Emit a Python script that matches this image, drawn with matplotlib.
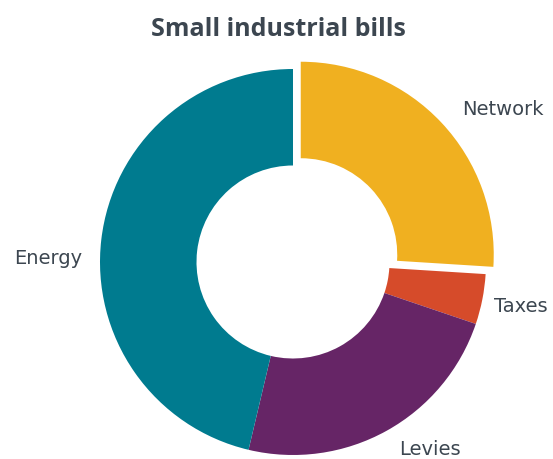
import matplotlib.pyplot as plt

# data
labels = ["Network", "Taxes", "Levies", "Energy"]
shares = [26.0, 4.2, 23.5, 46.3]
colors = ["#F0B020", "#D64B2A", "#662566", "#007B8F"]
explode = [0.055, 0, 0, 0]

# label positions (data coords, radius = 1)
label_pos = {
    "Network": (1.09, 0.79),
    "Taxes": (1.18, -0.23),
    "Levies": (0.71, -0.97),
    "Energy": (-1.27, 0.02),
}

text_col = "#3C4650"

fig = plt.figure(figsize=(5.53, 4.59), dpi=100)
W, H = 553, 459
cx, cy, R = 293, 262, 193
ax = fig.add_axes([(cx - R) / W, (H - cy - R) / H, 2 * R / W, 2 * R / H])

wedges, _ = ax.pie(
    shares,
    colors=colors,
    explode=explode,
    startangle=90,
    counterclock=False,
    radius=1.0,
    wedgeprops=dict(width=0.5, linewidth=0),
)
for w in wedges:
    w.set_clip_on(False)

for name in labels:
    x, y = label_pos[name]
    ax.text(x, y, name, ha="center", va="center", fontsize=14,
            color=text_col, family="DejaVu Sans")

ax.set_xlim(-1, 1)
ax.set_ylim(-1, 1)
ax.set_aspect("equal")
ax.axis("off")

fig.text(278 / W, 1 - 30 / H, "Small industrial bills", ha="center", va="center",
         fontsize=18, fontweight="bold", color=text_col, family="Open Sans")

fig.savefig("out.png", dpi=100)
